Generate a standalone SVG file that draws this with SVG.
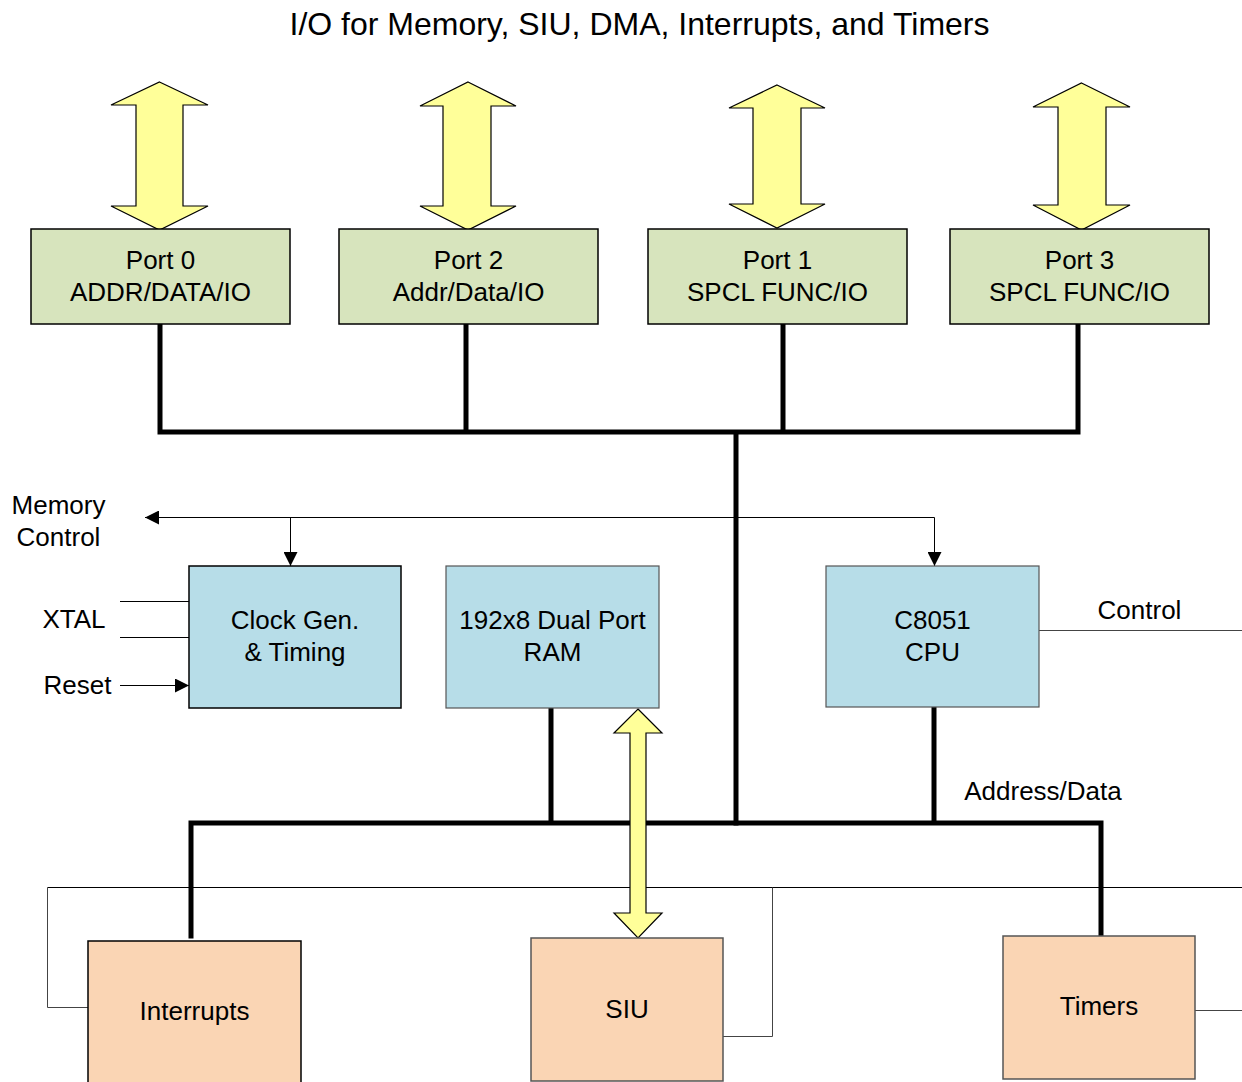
<svg xmlns="http://www.w3.org/2000/svg" width="1242" height="1082" viewBox="0 0 1242 1082">
<style>
text{font-family:"Liberation Sans",Arial,sans-serif;font-size:26px;fill:#000;text-anchor:middle}
.title{font-size:32px}
.port{fill:#d7e4bd;stroke:#000;stroke-width:1.5}
.blue{fill:#b7dde8;stroke:#000;stroke-width:1.5}
.blueg{fill:#b7dde8;stroke:#555;stroke-width:1.2}
.orange{fill:#fad5b4;stroke:#000;stroke-width:1.5}
.orangeg{fill:#fad5b4;stroke:#555;stroke-width:1.5}
.arrow{fill:#ffff99;stroke:#000;stroke-width:1.2;stroke-linejoin:miter}
.bus{fill:none;stroke:#000;stroke-width:5;stroke-linecap:square}
.thin{fill:none;stroke:#000;stroke-width:1}
.thing{fill:none;stroke:#444;stroke-width:1}
</style>
<defs>
<marker id="ah" viewBox="0 0 10 10" refX="10" refY="5" markerWidth="14" markerHeight="14" markerUnits="userSpaceOnUse" orient="auto">
<path d="M0,0 L10,5 L0,10 z" fill="#000"/>
</marker>
</defs>
<rect width="1242" height="1082" fill="#fff"/>
<text class="title" x="639.5" y="35">I/O for Memory, SIU, DMA, Interrupts, and Timers</text>

<g id="connectors">
<path class="thin" d="M47.5,887.5 H1242"/>
<path class="thing" d="M88,1007.5 H47.5 V887.5"/>
<path class="thing" d="M723,1036.5 H772.5 V887.5"/>
<path class="thing" d="M1195,1010.5 H1242"/>
<path class="thing" d="M1039,630.5 H1242"/>
<path class="thin" d="M120,601.5 H189 M120,637.5 H189"/>
<path class="thin" d="M120,685.5 H189" marker-end="url(#ah)"/>
<path class="thin" d="M934.5,517.5 H145" marker-end="url(#ah)"/>
<path class="thin" d="M290.5,517.5 V566" marker-end="url(#ah)"/>
<path class="thin" d="M934.5,517.5 V566" marker-end="url(#ah)"/>
<path class="bus" d="M160,324 V432 H1078 V324 M466,324 V432 M783,324 V432 M736,432 V823"/>
<path class="bus" d="M191,936 V823 H1101 V936 M551,708 V823 M934,708 V823"/>
</g>

<g id="arrow-port0"><path class="arrow" d="M159.5,82 L208,105 H183 V206 H208 L159.5,230 L111,206 H136 V105 H111 Z"/></g>
<g id="arrow-port2"><path class="arrow" d="M468,82 L516,106 H491 V206 H516 L468,230 L420,206 H443 V106 H420 Z"/></g>
<g id="arrow-port1"><path class="arrow" d="M777,85 L825,108 H801 V204 H825 L777,228 L729,204 H753 V108 H729 Z"/></g>
<g id="arrow-port3"><path class="arrow" d="M1081.5,83 L1130,107 H1106 V205 H1130 L1081.5,230 L1033,205 H1058 V107 H1033 Z"/></g>
<g id="arrow-ram-siu"><path class="arrow" d="M638,709 L662,733 H646 V913 H662 L638,938 L614,913 H630 V733 H614 Z"/></g>

<g id="port0"><rect class="port" x="31" y="229" width="259" height="95"/><text x="160.5" y="269">Port 0</text><text x="160.5" y="301">ADDR/DATA/IO</text></g>
<g id="port2"><rect class="port" x="339" y="229" width="259" height="95"/><text x="468.5" y="269">Port 2</text><text x="468.5" y="301">Addr/Data/IO</text></g>
<g id="port1"><rect class="port" x="648" y="229" width="259" height="95"/><text x="777.5" y="269">Port 1</text><text x="777.5" y="301">SPCL FUNC/IO</text></g>
<g id="port3"><rect class="port" x="950" y="229" width="259" height="95"/><text x="1079.5" y="269">Port 3</text><text x="1079.5" y="301">SPCL FUNC/IO</text></g>

<g id="memory-control-label"><text x="58.5" y="514">Memory</text><text x="58.5" y="546">Control</text></g>
<g id="xtal-label"><text x="74" y="628">XTAL</text></g>
<g id="reset-label"><text x="77.5" y="694">Reset</text></g>
<g id="clock"><rect class="blue" x="189" y="566" width="212" height="142"/><text x="295" y="629">Clock Gen.</text><text x="295" y="661">&amp; Timing</text></g>
<g id="ram"><rect class="blueg" x="446" y="566" width="213" height="142"/><text x="552.5" y="629">192x8 Dual Port</text><text x="552.5" y="661">RAM</text></g>
<g id="cpu"><rect class="blueg" x="826" y="566" width="213" height="141"/><text x="932.5" y="629">C8051</text><text x="932.5" y="661">CPU</text></g>
<g id="control-label"><text x="1139.5" y="619">Control</text></g>
<g id="addr-data-label"><text x="1043" y="800">Address/Data</text></g>

<g id="interrupts"><rect class="orange" x="88" y="941" width="213" height="145"/><text x="194.5" y="1020">Interrupts</text></g>
<g id="siu"><rect class="orangeg" x="531" y="938" width="192" height="143"/><text x="627" y="1018">SIU</text></g>
<g id="timers"><rect class="orangeg" x="1003" y="936" width="192" height="143"/><text x="1099" y="1015">Timers</text></g>
</svg>
